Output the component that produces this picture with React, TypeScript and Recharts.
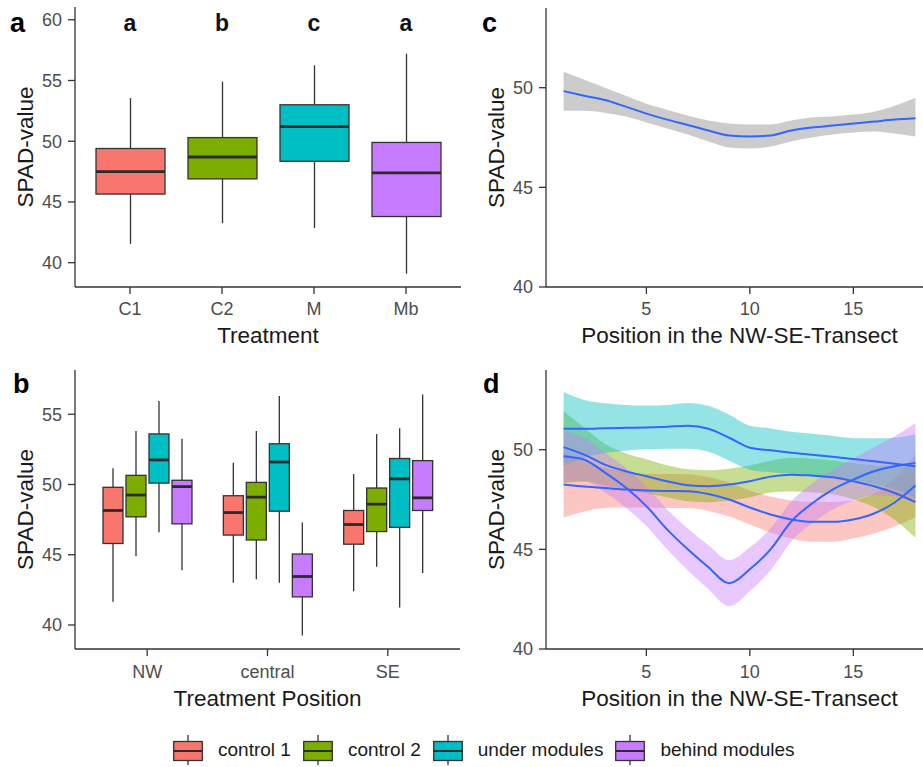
import { Area, Bar, ComposedChart, Line, XAxis, YAxis } from "recharts";

// panel a: SPAD by treatment (min, q1, median, q3, max)
const treatments = ["C1", "C2", "M", "Mb"];
const sigLetters = ["a", "b", "c", "a"];
const statsC1 = [41.55, 45.65, 47.5, 49.4, 53.55];
const statsC2 = [43.25, 46.9, 48.7, 50.3, 54.9];
const statsM = [42.85, 48.35, 51.2, 53.0, 56.25];
const statsMb = [39.1, 43.8, 47.4, 49.9, 57.2];
const SIG_LEVEL = 60;

// panel b: per treatment position (NW, central, SE)
const positions = ["NW", "central", "SE"];
const control1B = [
  [41.65, 45.8, 48.15, 49.8, 51.15],
  [43.0, 46.4, 48.0, 49.2, 51.55],
  [42.4, 45.75, 47.15, 48.15, 50.75],
];
const control2B = [
  [44.9, 47.7, 49.25, 50.65, 53.8],
  [43.25, 46.05, 49.1, 50.15, 53.8],
  [44.15, 46.65, 48.6, 49.75, 53.6],
];
const underB = [
  [46.6, 50.1, 51.75, 53.6, 55.95],
  [43.0, 48.1, 51.6, 52.9, 56.3],
  [41.25, 46.95, 50.4, 51.85, 54.0],
];
const behindB = [
  [43.9, 47.2, 49.85, 50.3, 53.25],
  [39.25, 42.0, 43.45, 45.05, 47.3],
  [43.7, 48.15, 49.05, 51.7, 56.4],
];

// panel c: loess fit along the transect
const transect = [1, 2, 3, 4, 5, 6, 7, 8, 9, 10, 11, 12, 13, 14, 15, 16, 17, 18];
const cMean = [49.83, 49.6, 49.38, 49.05, 48.7, 48.4, 48.13, 47.85, 47.6, 47.55, 47.6, 47.85, 48.0, 48.1, 48.2, 48.3, 48.4, 48.47];
const cLow = [48.85, 48.85, 48.75, 48.55, 48.25, 47.95, 47.65, 47.3, 47.0, 46.95, 47.05, 47.3, 47.5, 47.65, 47.75, 47.8, 47.7, 47.55];
const cHigh = [50.8, 50.4, 50.0, 49.6, 49.2, 48.9, 48.6, 48.35, 48.2, 48.15, 48.15, 48.35, 48.5, 48.55, 48.65, 48.8, 49.1, 49.5];

// panel d: loess fit per treatment (mean and half band width)
const c1Mean = [48.25, 48.15, 48.08, 48.0, 47.95, 47.93, 47.92, 47.78, 47.5, 47.1, 46.75, 46.5, 46.38, 46.38, 46.5, 46.8, 47.35, 48.2];
const c1Ci = [1.65, 1.25, 1.0, 0.9, 0.85, 0.85, 0.85, 0.85, 0.85, 0.85, 0.9, 0.95, 1.0, 1.0, 0.95, 1.0, 1.2, 1.6];
const c2Mean = [50.13, 49.75, 49.25, 48.92, 48.67, 48.42, 48.22, 48.17, 48.25, 48.42, 48.65, 48.75, 48.7, 48.62, 48.42, 48.17, 47.83, 47.37];
const c2Ci = [1.8, 1.35, 1.05, 0.9, 0.85, 0.8, 0.8, 0.8, 0.8, 0.8, 0.8, 0.85, 0.85, 0.85, 0.9, 1.05, 1.35, 1.8];
const umMean = [51.05, 51.05, 51.08, 51.1, 51.12, 51.15, 51.2, 51.05, 50.6, 50.1, 49.97, 49.85, 49.75, 49.65, 49.53, 49.42, 49.3, 49.17];
const umCi = [1.85, 1.45, 1.25, 1.15, 1.1, 1.1, 1.15, 1.15, 1.15, 1.1, 1.1, 1.05, 1.05, 1.05, 1.05, 1.15, 1.3, 1.6];
const bmMean = [49.67, 49.5, 48.85, 48.1, 47.17, 46.0, 45.0, 44.1, 43.3, 44.0, 45.0, 46.4, 47.3, 48.0, 48.5, 48.92, 49.17, 49.33];
const bmCi = [1.3, 1.1, 1.0, 1.0, 1.0, 1.0, 1.05, 1.1, 1.15, 1.1, 1.05, 1.0, 1.0, 1.0, 1.05, 1.2, 1.5, 2.0];

const groups = [
  { key: "c1", label: "control 1", color: "#F8766D", box: control1B, mean: c1Mean, ci: c1Ci },
  { key: "c2", label: "control 2", color: "#7CAE00", box: control2B, mean: c2Mean, ci: c2Ci },
  { key: "um", label: "under modules", color: "#00BFC4", box: underB, mean: umMean, ci: umCi },
  { key: "bm", label: "behind modules", color: "#C77CFF", box: behindB, mean: bmMean, ci: bmCi },
];

const FONT = '"Liberation Sans", Arial, sans-serif';
const AXIS = "#333333";
const SMOOTH = "#3366FF";
const TICK = { fill: "#4d4d4d", fontSize: 18 };
const TITLE = { fill: "#1a1a1a", fontSize: 22.5, textAnchor: "middle" as const };
const axisLine = { stroke: AXIS, strokeWidth: 1.3 };

const dataA = treatments.map((t, i) => ({
  name: t,
  box: [statsC1, statsC2, statsM, statsMb][i],
  fill: groups[i].color,
  sig: sigLetters[i],
  sigY: SIG_LEVEL,
}));

const dataB = positions.map((p, i) => {
  const row: any = { name: p };
  groups.forEach((g) => (row[g.key] = g.box[i]));
  return row;
});

const dataC = transect.map((x, i) => ({ x, mean: cMean[i], band: [cLow[i], cHigh[i]] }));

const dataD = transect.map((x, i) => {
  const row: any = { x };
  groups.forEach((g) => {
    row[g.key + "Mean"] = g.mean[i];
    row[g.key + "Band"] = [g.mean[i] - g.ci[i], g.mean[i] + g.ci[i]];
  });
  return row;
});

// draws a box + whiskers inside the [min, max] rect Recharts hands us
function BoxGlyph(props: any) {
  const { x, y, width, height, stats, fill } = props;
  if (!stats) return null;
  const [mn, q1, med, q3, mx] = stats;
  const top = Math.min(y, y + height);
  const bot = Math.max(y, y + height);
  const py = (v: number) => bot - ((v - mn) / (mx - mn)) * (bot - top);
  const cx = x + width / 2;
  return (
    <g>
      <line x1={cx} x2={cx} y1={py(mx)} y2={py(q3)} stroke={AXIS} strokeWidth={1.3} />
      <line x1={cx} x2={cx} y1={py(q1)} y2={py(mn)} stroke={AXIS} strokeWidth={1.3} />
      <rect x={x} y={py(q3)} width={width} height={py(q1) - py(q3)} fill={fill} stroke={AXIS} strokeWidth={1.3} />
      <line x1={x} x2={x + width} y1={py(med)} y2={py(med)} stroke="#2b2b2b" strokeWidth={2.8} />
    </g>
  );
}

function SigLetter(props: any) {
  const { cx, cy, payload, index } = props;
  return (
    <text key={index} x={cx} y={cy + 11} textAnchor="middle" fontWeight="bold" fontSize={23} fill="#111">
      {payload.sig}
    </text>
  );
}

function yLabel(offset: number) {
  return { value: "SPAD-value", angle: -90, position: "insideLeft" as const, offset, style: TITLE };
}

function PanelA() {
  return (
    <ComposedChart width={466} height={350} data={dataA} margin={{ top: 7, right: 5, left: 0, bottom: 0 }}>
      <XAxis dataKey="name" height={63} padding={{ left: 9, right: 9 }} tick={TICK} tickSize={7} tickMargin={8}
        axisLine={axisLine} tickLine={axisLine}
        label={{ value: "Treatment", position: "insideBottom", offset: 7, style: TITLE }} />
      <YAxis type="number" domain={[38, 61.05]} ticks={[40, 45, 50, 55, 60]} allowDataOverflow width={75}
        tick={TICK} tickSize={7} tickMargin={6} axisLine={axisLine} tickLine={axisLine} label={yLabel(25)} />
      <Bar dataKey={(d: any) => [d.box[0], d.box[4]]} barSize={69} isAnimationActive={false}
        shape={(p: any) => <BoxGlyph {...p} stats={p.payload.box} fill={p.payload.fill} />} />
      <Line dataKey="sigY" stroke="none" dot={SigLetter} activeDot={false} isAnimationActive={false} />
    </ComposedChart>
  );
}

function PanelB() {
  return (
    <ComposedChart width={465} height={360} data={dataB} barGap={3} margin={{ top: 15, right: 5, left: 0, bottom: 0 }}>
      <XAxis dataKey="name" height={66} padding={{ left: 12, right: 12 }} tick={TICK} tickSize={7} tickMargin={9}
        axisLine={axisLine} tickLine={axisLine}
        label={{ value: "Treatment Position", position: "insideBottom", offset: 9, style: TITLE }} />
      <YAxis type="number" domain={[38.29, 58.15]} ticks={[40, 45, 50, 55]} allowDataOverflow width={75}
        tick={TICK} tickSize={7} tickMargin={6} axisLine={axisLine} tickLine={axisLine} label={yLabel(25)} />
      {groups.map((g) => (
        <Bar key={g.key} dataKey={(d: any) => [d[g.key][0], d[g.key][4]]} barSize={20} fill={g.color}
          isAnimationActive={false}
          shape={(p: any) => <BoxGlyph {...p} stats={p.payload[g.key]} fill={g.color} />} />
      ))}
    </ComposedChart>
  );
}

function TransectAxes({ height }: { height: number }) {
  return null;
}

function PanelC() {
  return (
    <ComposedChart width={480} height={350} data={dataC} margin={{ top: 8, right: 7, left: 0, bottom: 0 }}>
      <XAxis type="number" dataKey="x" domain={[0.15, 18.85]} ticks={[5, 10, 15]} allowDataOverflow height={63}
        tick={TICK} tickSize={7} tickMargin={8} axisLine={axisLine} tickLine={axisLine}
        label={{ value: "Position in the NW-SE-Transect", position: "insideBottom", offset: 7, style: TITLE }} />
      <YAxis type="number" domain={[40, 54]} ticks={[40, 45, 50]} allowDataOverflow width={86}
        tick={TICK} tickSize={7} tickMargin={6} axisLine={axisLine} tickLine={axisLine} label={yLabel(36)} />
      <Area type="monotone" dataKey="band" stroke="none" fill="#999999" fillOpacity={0.5} isAnimationActive={false} />
      <Line type="monotone" dataKey="mean" stroke={SMOOTH} strokeWidth={2} dot={false} activeDot={false} isAnimationActive={false} />
    </ComposedChart>
  );
}

function PanelD() {
  return (
    <ComposedChart width={480} height={360} data={dataD} margin={{ top: 15, right: 7, left: 0, bottom: 0 }}>
      <XAxis type="number" dataKey="x" domain={[0.15, 18.85]} ticks={[5, 10, 15]} allowDataOverflow height={66}
        tick={TICK} tickSize={7} tickMargin={9} axisLine={axisLine} tickLine={axisLine}
        label={{ value: "Position in the NW-SE-Transect", position: "insideBottom", offset: 9, style: TITLE }} />
      <YAxis type="number" domain={[40, 54]} ticks={[40, 45, 50]} allowDataOverflow width={86}
        tick={TICK} tickSize={7} tickMargin={6} axisLine={axisLine} tickLine={axisLine} label={yLabel(36)} />
      {groups.map((g) => (
        <Area key={g.key + "a"} type="monotone" dataKey={g.key + "Band"} stroke="none" fill={g.color}
          fillOpacity={0.42} isAnimationActive={false} />
      ))}
      {groups.map((g) => (
        <Line key={g.key + "l"} type="monotone" dataKey={g.key + "Mean"} stroke={SMOOTH} strokeWidth={2}
          dot={false} activeDot={false} isAnimationActive={false} />
      ))}
    </ComposedChart>
  );
}

function LegendKey({ color }: { color: string }) {
  return (
    <svg width={30} height={30}>
      <line x1={15} x2={15} y1={0} y2={30} stroke={AXIS} strokeWidth={1.3} />
      <rect x={0.7} y={6.5} width={28.6} height={19} fill={color} stroke={AXIS} strokeWidth={1.3} />
      <line x1={0.7} x2={29.3} y1={16} y2={16} stroke="#2b2b2b" strokeWidth={2} />
    </svg>
  );
}

const tags = [
  { t: "a", x: 10, y: 32 },
  { t: "b", x: 13, y: 393 },
  { t: "c", x: 482, y: 32 },
  { t: "d", x: 483, y: 393 },
];

export default function App() {
  return (
    <div style={{ position: "absolute", left: 0, top: 0, width: 923, height: 767, overflow: "hidden", background: "#fff", fontFamily: FONT }}>
      <div style={{ position: "absolute", left: 0, top: 0 }}><PanelA /></div>
      <div style={{ position: "absolute", left: 0, top: 355 }}><PanelB /></div>
      <div style={{ position: "absolute", left: 460, top: 0 }}><PanelC /></div>
      <div style={{ position: "absolute", left: 460, top: 355 }}><PanelD /></div>
      <svg width={923} height={767} style={{ position: "absolute", left: 0, top: 0, pointerEvents: "none" }}>
        {tags.map((g) => (
          <text key={g.t} x={g.x} y={g.y} fontSize={27} fontWeight="bold" fill="#000">{g.t}</text>
        ))}
      </svg>
      <div style={{ position: "absolute", left: 173, top: 735, display: "flex", alignItems: "center", fontSize: 19, color: "#1a1a1a" }}>
        {groups.map((g) => (
          <div key={g.key} style={{ display: "flex", alignItems: "center" }}>
            <LegendKey color={g.color} />
            <span style={{ marginLeft: 15, marginRight: 12 }}>{g.label}</span>
          </div>
        ))}
      </div>
    </div>
  );
}
